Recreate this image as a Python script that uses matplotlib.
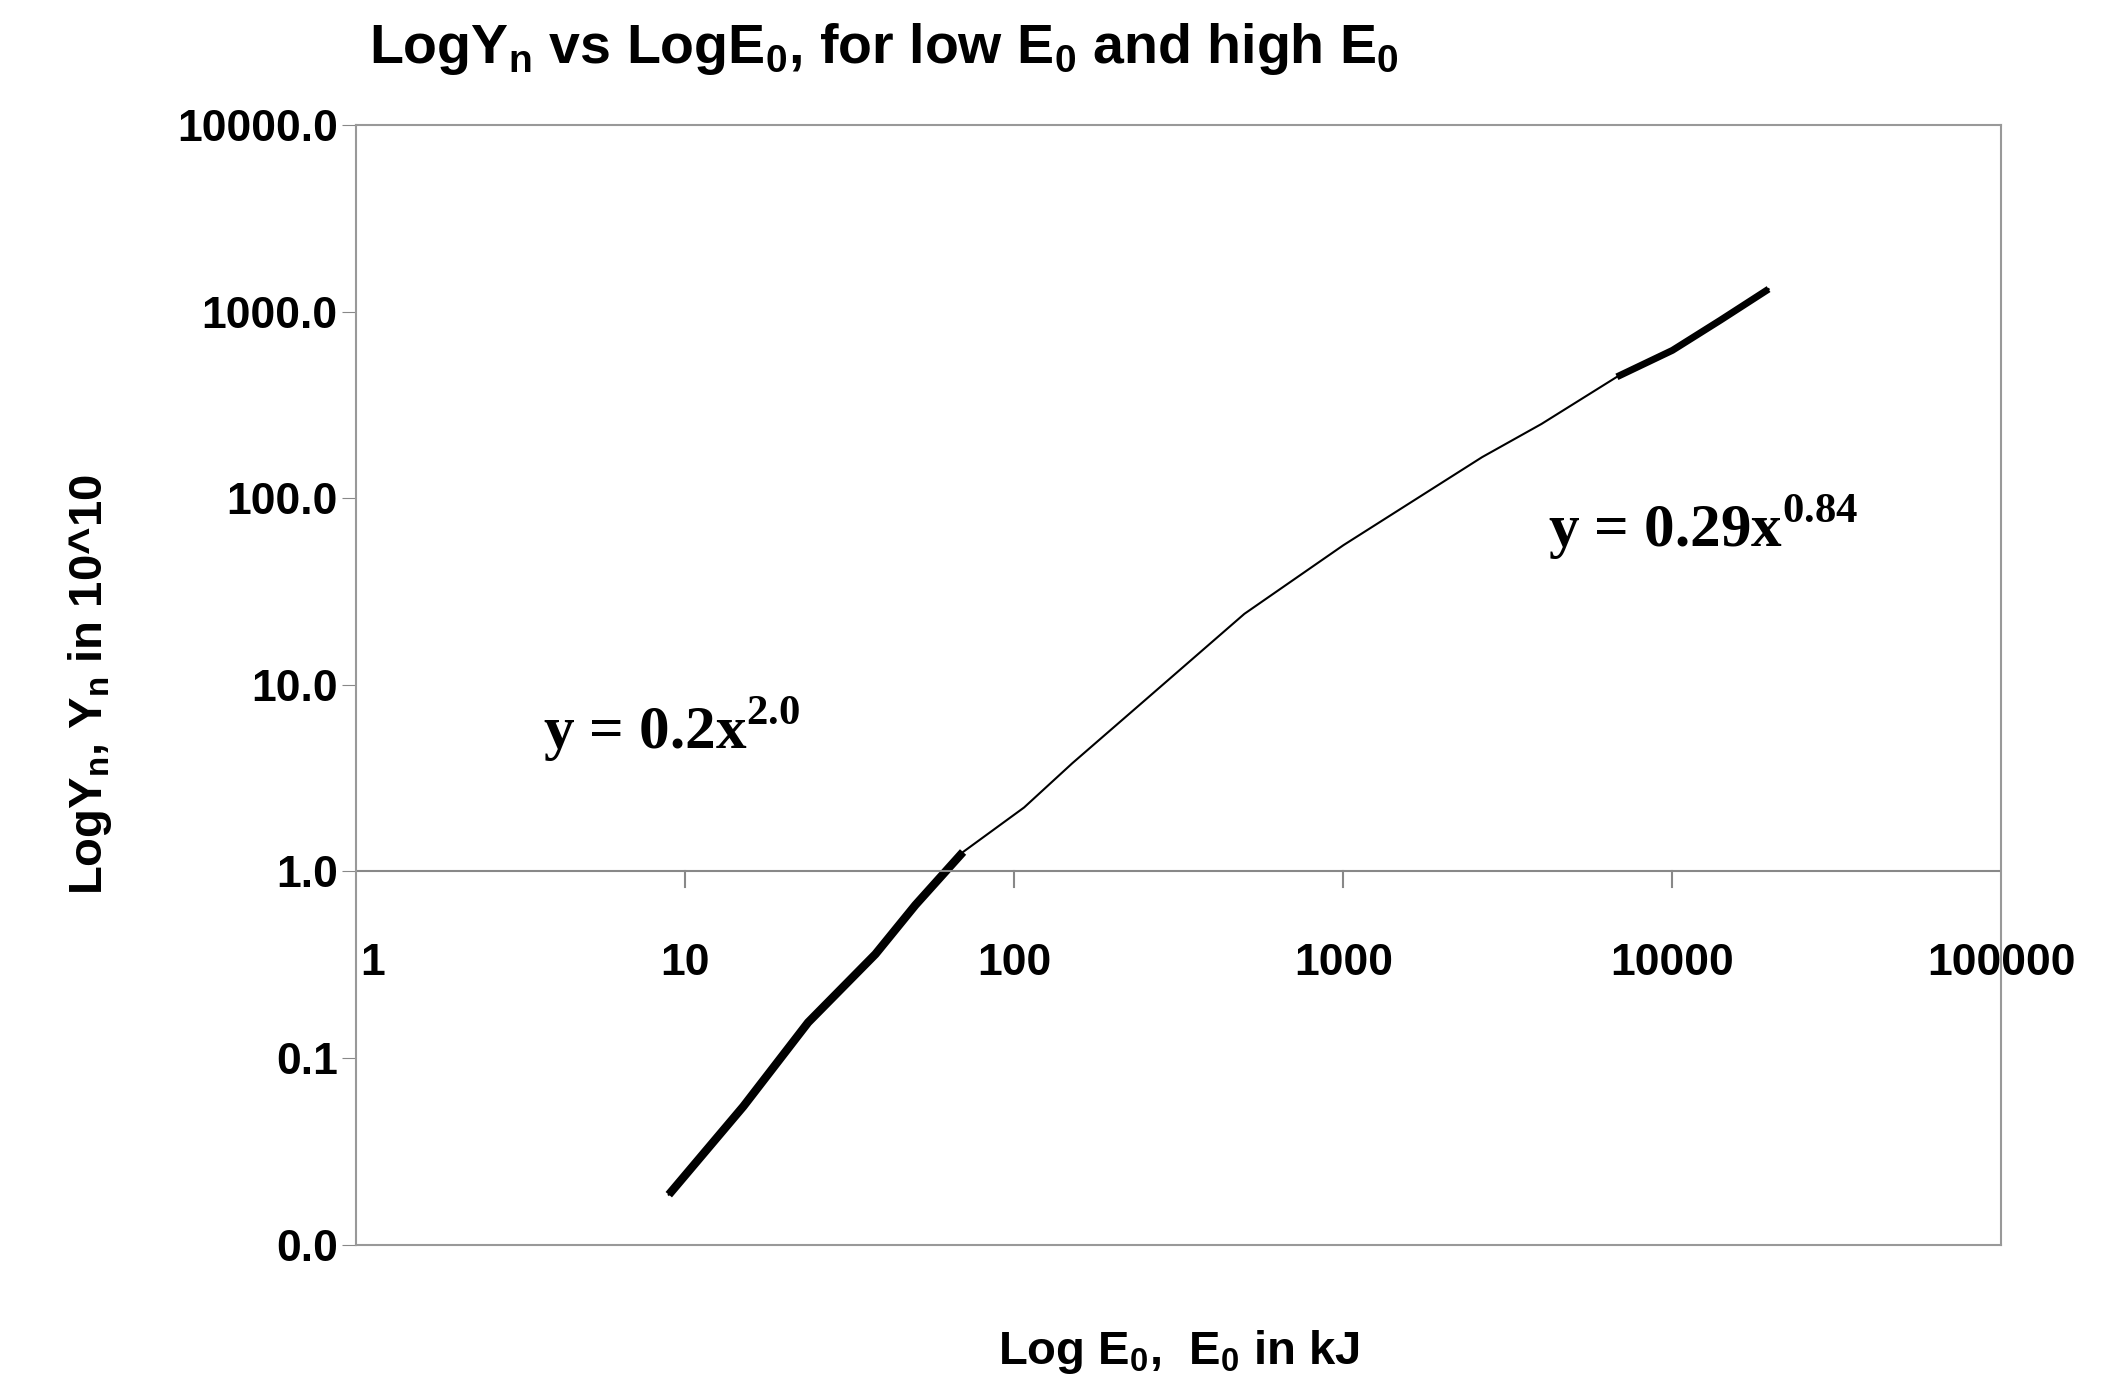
import numpy as np
import matplotlib.pyplot as plt

# values
energy_kj = [8.9, 15, 23.6, 37.8, 50, 69.8, 107, 150, 250, 500, 1000, 2640, 4000,
             6780, 10000, 14000, 19600]
yield_n = [0.0185, 0.055, 0.155, 0.36, 0.66, 1.27, 2.2, 3.8, 8.3, 24, 56, 166, 250,
           447, 620, 900, 1320]
low_range = (8.9, 69.8)
high_range = (6780, 19600)
x_ticks = [1, 10, 100, 1000, 10000, 100000]
y_ticks = [0.01, 0.1, 1, 10, 100, 1000, 10000]
y_labels = ['0.0', '0.1', '1.0', '10.0', '100.0', '1000.0', '10000.0']

plt.rcParams['font.family'] = ['Liberation Sans', 'DejaVu Sans']
plt.rcParams['font.weight'] = 'bold'

fig = plt.figure(figsize=(21.09, 13.89), dpi=100)
ax = fig.add_axes([0.169, 0.104, 0.78, 0.806])

x = np.array(energy_kj)
y = np.array(yield_n)
ax.plot(x, y, color='black', lw=1.5)
lo = (x >= low_range[0]) & (x <= low_range[1])
hi = (x >= high_range[0]) & (x <= high_range[1])
ax.plot(x[lo], y[lo], color='black', lw=6, solid_capstyle='butt')
ax.plot(x[hi], y[hi], color='black', lw=5, solid_capstyle='butt')

ax.set_xscale('log')
ax.set_yscale('log')
ax.set_xlim(1, 100000)
ax.set_ylim(0.01, 10000)
ax.set_yticks(y_ticks)
ax.set_yticklabels(y_labels)
ax.set_xticks([])
ax.minorticks_off()

for s in ax.spines.values():
    s.set_color('#999999')
    s.set_linewidth(1.5)
ax.axhline(1, color='#888888', lw=1.5)
# x tick marks and labels hang from the y=1 line
for v in x_ticks[1:-1]:
    ax.plot([v, v], [1, 0.82], color='#888888', lw=1.5)
for v in x_ticks:
    ax.text(v * (1.12 if v == 1 else 1), 0.32, str(v), ha='center', va='center',
            fontsize=32, fontweight='bold')
ax.tick_params(axis='y', length=10, color='#888888', labelsize=32, direction='out')

ax.text(3.7, 4.5, r'y = 0.2x$^{\mathregular{2.0}}$', fontsize=44, family='Liberation Serif',
        fontweight='bold')
ax.text(4200, 55, r'y = 0.29x$^{\mathregular{0.84}}$', fontsize=44, family='Liberation Serif',
        fontweight='bold')

fig.text(0.175, 0.955, r'LogY$_\mathregular{n}$ vs LogE$_\mathregular{0}$, for low E$_\mathregular{0}$ and high E$_\mathregular{0}$',
         ha='left', fontsize=40, fontweight='bold')
ax.set_xlabel(r'Log E$_\mathregular{0}$,  E$_\mathregular{0}$ in kJ', fontsize=34,
              fontweight='bold', labelpad=60)
ax.set_ylabel(r'LogY$_\mathregular{n}$, Y$_\mathregular{n}$ in 10^10', fontsize=34,
              fontweight='bold', labelpad=45)

fig.savefig('out.png', dpi=100)
